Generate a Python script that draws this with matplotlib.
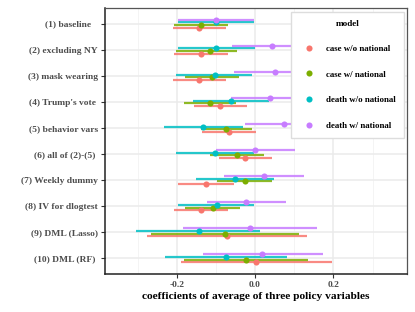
import matplotlib
matplotlib.use("Agg")
import matplotlib.pyplot as plt
from matplotlib.lines import Line2D
import numpy as np

plt.rcParams['font.family'] = ['Liberation Serif', 'DejaVu Serif']

categories = ["(1) baseline   ", "(2) excluding NY", "(3) mask wearing", "(4) Trump's vote ",
              "(5) behavior vars", "(6) all of (2)-(5) ", "(7) Weekly dummy", "(8) IV for dlogtest",
              "(9) DML (Lasso)", "(10) DML (RF) "]

models = ["case w/o national", "case w/ national", "death w/o national", "death w/ national"]
colors = ["#F8766D", "#7CAE00", "#00BFC4", "#C77CFF"]

# point estimates
case_wo = [-0.142, -0.138, -0.142, -0.089, -0.067, -0.025, -0.125, -0.138, -0.072, 0.003]
case_w = [-0.137, -0.115, -0.110, -0.115, -0.073, -0.047, -0.026, -0.108, -0.077, -0.023]
death_wo = [-0.099, -0.099, -0.103, -0.062, -0.132, -0.101, -0.052, -0.098, -0.144, -0.075]
death_w = [-0.099, 0.043, 0.050, 0.037, 0.075, -0.001, 0.024, -0.022, -0.014, 0.019]

# lower bounds
case_wo_lo = [-0.210, -0.208, -0.210, -0.155, -0.136, -0.092, -0.196, -0.206, -0.277, -0.189]
case_w_lo = [-0.206, -0.203, -0.178, -0.182, -0.138, -0.114, -0.096, -0.178, -0.265, -0.182]
death_wo_lo = [-0.196, -0.196, -0.202, -0.159, -0.233, -0.203, -0.151, -0.196, -0.303, -0.231]
death_w_lo = [-0.196, -0.058, -0.053, -0.062, -0.025, -0.100, -0.079, -0.123, -0.185, -0.132]

# upper bounds
case_wo_hi = [-0.075, -0.069, -0.075, -0.021, 0.002, 0.044, -0.054, -0.069, 0.133, 0.197]
case_w_hi = [-0.069, -0.047, -0.042, -0.048, -0.007, 0.023, 0.043, -0.038, 0.112, 0.136]
death_wo_hi = [-0.003, -0.001, -0.007, 0.035, -0.031, -0.003, 0.048, -0.002, 0.013, 0.081]
death_w_hi = [-0.003, 0.144, 0.153, 0.136, 0.175, 0.101, 0.126, 0.078, 0.158, 0.173]

estimates = [case_wo, case_w, death_wo, death_w]
lows = [case_wo_lo, case_w_lo, death_wo_lo, death_w_lo]
highs = [case_wo_hi, case_w_hi, death_wo_hi, death_w_hi]
offsets = [0.15, 0.05, -0.05, -0.15]

fig = plt.figure(figsize=(4.15, 3.12), dpi=100)
ax = fig.add_axes([105/415, 1 - 274/312, (407-105)/415, (274-8)/312])

ypos = np.arange(1, len(categories) + 1)

ax.set_xlim(-0.383, 0.388)
ax.set_ylim(10.6, 0.4)

for v in [-0.3, -0.1, 0.1, 0.3]:
    ax.axvline(v, color="#F2F2F2", lw=0.6, zorder=0)
for v in [-0.2, 0.0, 0.2]:
    ax.axvline(v, color="#EBEBEB", lw=1.1, zorder=0)
for y in ypos:
    ax.axhline(y, color="#EBEBEB", lw=1.1, zorder=0)

for est, lo, hi, off, c in zip(estimates, lows, highs, offsets, colors):
    yy = ypos + off
    ax.hlines(yy, lo, hi, color=c, lw=1.6, alpha=0.85, zorder=2)
    ax.plot(est, yy, 'o', color=c, ms=4.4, mec='none', zorder=3)

ax.set_yticks(ypos)
ax.set_yticklabels(categories, fontsize=6.8, fontweight='bold', color="#4D4D4D")
ax.set_xticks([-0.2, 0.0, 0.2])
ax.set_xticklabels(["-0.2", "0.0", "0.2"], fontsize=6.8, fontweight='bold', color="#4D4D4D")
ax.tick_params(axis='both', length=3, width=0.8, color="#333333", pad=2)
ax.set_xlabel("coefficients of average of three policy variables", fontsize=8.2,
              fontweight='bold', color='black', labelpad=2)

for s in ['left', 'bottom']:
    ax.spines[s].set_color('#222222')
    ax.spines[s].set_linewidth(1.1)
for s in ['top', 'right']:
    ax.spines[s].set_color('#555555')
    ax.spines[s].set_linewidth(0.9)

handles = [Line2D([], [], marker='o', ls='none', color=c, ms=4.4, mec='none') for c in colors]
leg = ax.legend(handles, models, title="model", loc='upper right',
                bbox_to_anchor=(1 - 3/302, 1 - 3.5/266),
                prop={'family': 'Liberation Serif', 'weight': 'bold', 'size': 6.4},
                title_fontproperties={'family': 'Liberation Serif', 'weight': 'bold', 'size': 6.6},
                frameon=True, fancybox=False, edgecolor="#DDDDDD", framealpha=1,
                labelspacing=1.95, handletextpad=0.7, handlelength=2.4,
                borderpad=0.9, borderaxespad=0)
leg.get_frame().set_linewidth(1.0)

fig.savefig("out.png", dpi=100)
